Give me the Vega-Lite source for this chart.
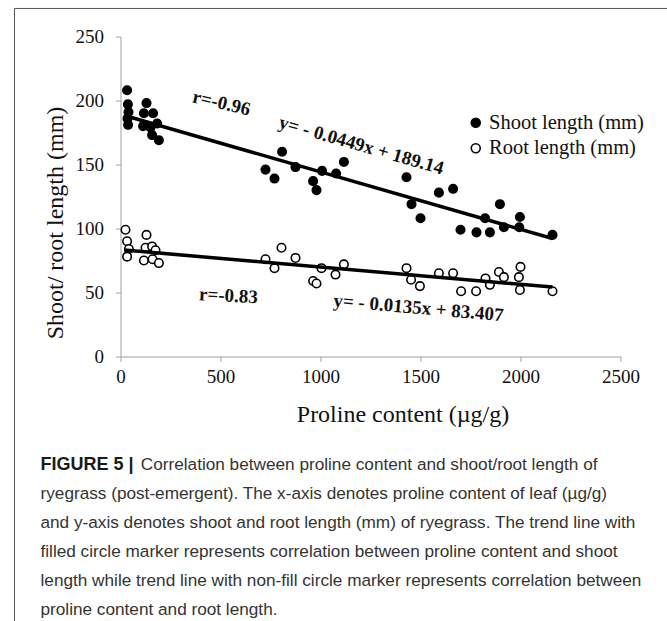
{
  "$schema": "https://vega.github.io/schema/vega-lite/v6.json",
  "width": 500,
  "height": 320,
  "padding": {"left": 13.5, "top": 7.5, "right": 0, "bottom": 0},
  "background": "white",
  "config": {
    "view": {"stroke": null},
    "font": "Liberation Serif",
    "axis": {
      "grid": false,
      "domainColor": "#a0a0a0",
      "tickColor": "#a0a0a0",
      "tickSize": 5,
      "labelFont": "Liberation Serif",
      "labelFontSize": 19,
      "labelColor": "#111",
      "titleFont": "Liberation Serif",
      "titleFontSize": 24,
      "titleFontWeight": "normal",
      "titleColor": "#111",
      "labelFlush": false,
      "labelOverlap": false,
      "format": "d"
    }
  },
  "title": {
    "text": "FIGURE 5 |",
    "subtitle": [
      "\u200b\u00a0\u00a0\u00a0\u00a0\u00a0\u00a0\u00a0\u00a0\u00a0\u00a0\u00a0\u00a0\u00a0\u00a0\u00a0\u00a0\u00a0\u00a0\u00a0\u00a0\u00a0Correlation between proline content and shoot/root length of",
      "ryegrass (post-emergent). The x-axis denotes proline content of leaf (µg/g)",
      "and y-axis denotes shoot and root length (mm) of ryegrass. The trend line with",
      "filled circle marker represents correlation between proline content and shoot",
      "length while trend line with non-fill circle marker represents correlation between",
      "proline content and root length."
    ],
    "orient": "bottom",
    "anchor": "start",
    "frame": "group",
    "dx": -80,
    "offset": -166,
    "baseline": "top",
    "font": "Liberation Sans",
    "fontSize": 18,
    "fontWeight": "bold",
    "color": "#1a1a1a",
    "subtitleFont": "Liberation Sans",
    "subtitleFontSize": 17.2,
    "subtitleFontWeight": "normal",
    "subtitleColor": "#333333",
    "subtitleLineHeight": 29,
    "subtitlePadding": -17.5
  },
  "datasets": {
    "points": [
      {"series": "Shoot length (mm)", "proline": 33, "length": 208},
      {"series": "Shoot length (mm)", "proline": 37, "length": 197},
      {"series": "Shoot length (mm)", "proline": 40, "length": 191},
      {"series": "Shoot length (mm)", "proline": 35, "length": 186},
      {"series": "Shoot length (mm)", "proline": 38, "length": 181},
      {"series": "Shoot length (mm)", "proline": 130, "length": 198},
      {"series": "Shoot length (mm)", "proline": 117, "length": 190},
      {"series": "Shoot length (mm)", "proline": 113, "length": 180},
      {"series": "Shoot length (mm)", "proline": 163, "length": 190},
      {"series": "Shoot length (mm)", "proline": 150, "length": 179},
      {"series": "Shoot length (mm)", "proline": 158, "length": 173},
      {"series": "Shoot length (mm)", "proline": 183, "length": 182},
      {"series": "Shoot length (mm)", "proline": 192, "length": 169},
      {"series": "Shoot length (mm)", "proline": 725, "length": 146},
      {"series": "Shoot length (mm)", "proline": 770, "length": 139},
      {"series": "Shoot length (mm)", "proline": 808, "length": 160},
      {"series": "Shoot length (mm)", "proline": 875, "length": 148},
      {"series": "Shoot length (mm)", "proline": 963, "length": 137},
      {"series": "Shoot length (mm)", "proline": 980, "length": 130},
      {"series": "Shoot length (mm)", "proline": 1008, "length": 145},
      {"series": "Shoot length (mm)", "proline": 1078, "length": 143},
      {"series": "Shoot length (mm)", "proline": 1117, "length": 152},
      {"series": "Shoot length (mm)", "proline": 1430, "length": 140},
      {"series": "Shoot length (mm)", "proline": 1455, "length": 119},
      {"series": "Shoot length (mm)", "proline": 1500, "length": 108},
      {"series": "Shoot length (mm)", "proline": 1592, "length": 128},
      {"series": "Shoot length (mm)", "proline": 1663, "length": 131},
      {"series": "Shoot length (mm)", "proline": 1700, "length": 99},
      {"series": "Shoot length (mm)", "proline": 1780, "length": 97},
      {"series": "Shoot length (mm)", "proline": 1847, "length": 97},
      {"series": "Shoot length (mm)", "proline": 1823, "length": 108},
      {"series": "Shoot length (mm)", "proline": 1897, "length": 119},
      {"series": "Shoot length (mm)", "proline": 1917, "length": 101},
      {"series": "Shoot length (mm)", "proline": 1997, "length": 109},
      {"series": "Shoot length (mm)", "proline": 1994, "length": 101},
      {"series": "Shoot length (mm)", "proline": 2160, "length": 95},
      {"series": "Root length (mm)", "proline": 25, "length": 99},
      {"series": "Root length (mm)", "proline": 33, "length": 90},
      {"series": "Root length (mm)", "proline": 42, "length": 84},
      {"series": "Root length (mm)", "proline": 33, "length": 78},
      {"series": "Root length (mm)", "proline": 130, "length": 95},
      {"series": "Root length (mm)", "proline": 125, "length": 85},
      {"series": "Root length (mm)", "proline": 117, "length": 75},
      {"series": "Root length (mm)", "proline": 158, "length": 86},
      {"series": "Root length (mm)", "proline": 175, "length": 83},
      {"series": "Root length (mm)", "proline": 160, "length": 76},
      {"series": "Root length (mm)", "proline": 192, "length": 73},
      {"series": "Root length (mm)", "proline": 725, "length": 76},
      {"series": "Root length (mm)", "proline": 770, "length": 69},
      {"series": "Root length (mm)", "proline": 805, "length": 85},
      {"series": "Root length (mm)", "proline": 875, "length": 77},
      {"series": "Root length (mm)", "proline": 963, "length": 59},
      {"series": "Root length (mm)", "proline": 980, "length": 57},
      {"series": "Root length (mm)", "proline": 1005, "length": 69},
      {"series": "Root length (mm)", "proline": 1075, "length": 64},
      {"series": "Root length (mm)", "proline": 1117, "length": 72},
      {"series": "Root length (mm)", "proline": 1430, "length": 69},
      {"series": "Root length (mm)", "proline": 1453, "length": 60},
      {"series": "Root length (mm)", "proline": 1497, "length": 55},
      {"series": "Root length (mm)", "proline": 1592, "length": 65},
      {"series": "Root length (mm)", "proline": 1663, "length": 65},
      {"series": "Root length (mm)", "proline": 1703, "length": 51},
      {"series": "Root length (mm)", "proline": 1778, "length": 51},
      {"series": "Root length (mm)", "proline": 1825, "length": 61},
      {"series": "Root length (mm)", "proline": 1847, "length": 56},
      {"series": "Root length (mm)", "proline": 1892, "length": 66},
      {"series": "Root length (mm)", "proline": 1917, "length": 62},
      {"series": "Root length (mm)", "proline": 2000, "length": 70},
      {"series": "Root length (mm)", "proline": 1992, "length": 62},
      {"series": "Root length (mm)", "proline": 1997, "length": 52},
      {"series": "Root length (mm)", "proline": 2160, "length": 51}
    ],
    "fits": [
      {"series": "Shoot length (mm)", "proline": 20, "length": 188.24},
      {"series": "Shoot length (mm)", "proline": 2160, "length": 92.16},
      {"series": "Root length (mm)", "proline": 20, "length": 83.14},
      {"series": "Root length (mm)", "proline": 2160, "length": 54.25}
    ]
  },
  "layer": [
    {
      "data": {"values": [{}]},
      "mark": {"type": "rule", "color": "#555555", "strokeWidth": 1},
      "encoding": {
        "x": {"datum": -530, "type": "quantitative", "scale": {"domain": [0, 2500], "nice": false, "zero": false}},
        "x2": {"datum": 2740},
        "y": {"datum": 271.9, "type": "quantitative", "scale": {"domain": [0, 250], "nice": false, "zero": false}}
      }
    },
    {
      "data": {"values": [{}]},
      "mark": {"type": "rule", "color": "#555555", "strokeWidth": 1},
      "encoding": {
        "x": {"datum": -530, "type": "quantitative", "scale": {"domain": [0, 2500], "nice": false, "zero": false}},
        "y": {"datum": 271.9, "type": "quantitative", "scale": {"domain": [0, 250], "nice": false, "zero": false}},
        "y2": {"datum": -207}
      }
    },
    {
      "data": {"name": "points"},
      "mark": {"type": "circle", "size": 72, "stroke": "black", "strokeWidth": 1.6, "opacity": 1},
      "encoding": {
        "x": {
          "field": "proline", "type": "quantitative",
          "scale": {"domain": [0, 2500], "nice": false, "zero": false},
          "axis": {"values": [0, 500, 1000, 1500, 2000, 2500], "title": "Proline content (µg/g)", "labelPadding": 6, "titlePadding": 16, "titleX": 282}
        },
        "y": {
          "field": "length", "type": "quantitative",
          "scale": {"domain": [0, 250], "nice": false, "zero": false},
          "axis": {"values": [0, 50, 100, 150, 200, 250], "title": "Shoot/ root length (mm)", "labelPadding": 12, "titlePadding": 8, "titleY": 186}
        },
        "fill": {
          "field": "series", "type": "nominal",
          "scale": {"domain": ["Shoot length (mm)", "Root length (mm)"], "range": ["#000000", "#ffffff"]},
          "legend": {
            "orient": "none", "legendX": 345, "legendY": 76, "title": null,
            "labelFont": "Liberation Serif", "labelFontSize": 20.5, "labelColor": "#111",
            "symbolType": "circle", "symbolSize": 80, "symbolStrokeColor": "black", "symbolStrokeWidth": 1.6,
            "rowPadding": 4.5, "labelOffset": 3, "padding": 0, "labelLimit": 300
          }
        }
      }
    },
    {
      "data": {"name": "fits"},
      "mark": {"type": "line", "color": "black", "strokeWidth": 3.5},
      "encoding": {
        "x": {"field": "proline", "type": "quantitative", "scale": {"domain": [0, 2500], "nice": false, "zero": false}},
        "y": {"field": "length", "type": "quantitative", "scale": {"domain": [0, 250], "nice": false, "zero": false}},
        "detail": {"field": "series", "type": "nominal"}
      }
    },
    {
      "data": {"values": [{"note": "r=-0.96", "proline": 505, "length": 198}]},
      "mark": {"type": "text", "angle": 13, "font": "Liberation Serif", "fontSize": 19, "fontWeight": "bold", "color": "#111", "align": "center", "baseline": "middle"},
      "encoding": {
        "x": {"field": "proline", "type": "quantitative", "scale": {"domain": [0, 2500], "nice": false, "zero": false}},
        "y": {"field": "length", "type": "quantitative", "scale": {"domain": [0, 250], "nice": false, "zero": false}},
        "text": {"field": "note"}
      }
    },
    {
      "data": {"values": [{"note": "y= - 0.0449x + 189.14", "proline": 1204, "length": 165}]},
      "mark": {"type": "text", "angle": 16, "font": "Liberation Serif", "fontSize": 19, "fontWeight": "bold", "color": "#111", "align": "center", "baseline": "middle"},
      "encoding": {
        "x": {"field": "proline", "type": "quantitative", "scale": {"domain": [0, 2500], "nice": false, "zero": false}},
        "y": {"field": "length", "type": "quantitative", "scale": {"domain": [0, 250], "nice": false, "zero": false}},
        "text": {"field": "note"}
      }
    },
    {
      "data": {"values": [{"note": "r=-0.83", "proline": 540, "length": 47.5}]},
      "mark": {"type": "text", "angle": 3, "font": "Liberation Serif", "fontSize": 19, "fontWeight": "bold", "color": "#111", "align": "center", "baseline": "middle"},
      "encoding": {
        "x": {"field": "proline", "type": "quantitative", "scale": {"domain": [0, 2500], "nice": false, "zero": false}},
        "y": {"field": "length", "type": "quantitative", "scale": {"domain": [0, 250], "nice": false, "zero": false}},
        "text": {"field": "note"}
      }
    },
    {
      "data": {"values": [{"note": "y= - 0.0135x + 83.407", "proline": 1490, "length": 38}]},
      "mark": {"type": "text", "angle": 5, "font": "Liberation Serif", "fontSize": 19, "fontWeight": "bold", "color": "#111", "align": "center", "baseline": "middle"},
      "encoding": {
        "x": {"field": "proline", "type": "quantitative", "scale": {"domain": [0, 2500], "nice": false, "zero": false}},
        "y": {"field": "length", "type": "quantitative", "scale": {"domain": [0, 250], "nice": false, "zero": false}},
        "text": {"field": "note"}
      }
    }
  ]
}
